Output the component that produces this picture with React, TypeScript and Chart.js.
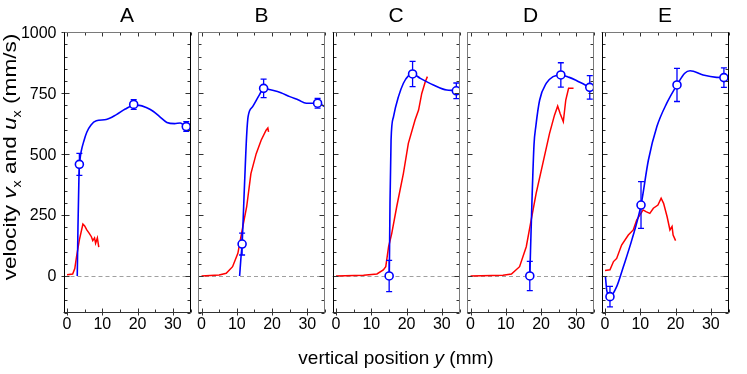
import React, { useEffect, useRef } from "react";
import { Chart, registerables } from "chart.js";

Chart.register(...registerables);

// ---------------- data ----------------
const panelTitles = ["A", "B", "C", "D", "E"];
const xTickValues = [0, 10, 20, 30];
const yTickValues = [0, 250, 500, 750, 1000];
const yTickLabels = ["0", "250", "500", "750", "1000"];

// Panel A
const aBlueX = [2.9, 3.1, 3.4, 3.7, 4.0, 4.8, 5.6, 6.8, 8.3, 11.1, 14.0, 16.5, 18.9, 20.5, 22.6, 24.5, 26.4, 28.3, 30.5, 32.1, 33.8, 35];
const aBlueY = [0, 200, 420, 480, 510, 555, 590, 620, 637, 642, 662, 685, 700, 700, 690, 675, 652, 630, 625, 628, 613, 612];
const aRedX = [0, 1.6, 2.2, 2.7, 3.5, 4.5, 5.0, 5.6, 6.3, 6.9, 7.3, 7.8, 8.1, 8.6, 9.0];
const aRedY = [5, 8, 30, 79, 148, 213, 205, 189, 175, 161, 145, 156, 134, 156, 118];
const aMarkX = [3.5, 18.9, 33.8];
const aMarkY = [458, 704, 613];
const aMarkErr = [45, 20, 20];

// Panel B
const bBlueX = [10.8, 11.2, 11.5, 12.2, 12.8, 13.2, 14.5, 16.4, 17.6, 19.8, 22.5, 25, 27.5, 29.7, 32.9, 35];
const bBlueY = [0, 80, 131, 380, 580, 654, 695, 743, 770, 763, 752, 736, 722, 709, 709, 695];
const bRedX = [0, 5.0, 7.0, 8.8, 10.3, 11.7, 12.8, 14.0, 15.5, 16.9, 18.3, 18.8, 19.0];
const bRedY = [0, 4, 11, 38, 93, 202, 284, 420, 502, 557, 598, 607, 591];
const bMarkX = [11.5, 17.6, 32.9];
const bMarkY = [131, 770, 709];
const bMarkErr = [45, 38, 20];

// Panel C
const cBlueX = [15.1, 15.3, 15.6, 16.3, 17.7, 19.1, 20.5, 21.7, 23.9, 27.6, 31.4, 34.1, 35];
const cBlueY = [0, 300, 558, 654, 736, 791, 821, 829, 811, 784, 763, 760, 755];
const cRedX = [0, 7.8, 11.6, 13.4, 14.1, 14.9, 15.8, 17.2, 19.1, 20.5, 22.4, 23.4, 24.3, 25.3, 25.9];
const cRedY = [0, 3, 8, 25, 38, 120, 175, 284, 421, 544, 640, 681, 749, 797, 818];
const cMarkX = [15.06, 21.7, 34.1];
const cMarkY = [0, 829, 760];
const cMarkErr = [64, 52, 32];

// Panel D
const dBlueX = [16.8, 17.4, 18.0, 18.5, 19.6, 21.5, 23.4, 25.6, 28, 30, 33.8, 35];
const dBlueY = [0, 300, 540, 613, 722, 791, 818, 825, 815, 802, 774, 765];
const dRedX = [0, 9.2, 11.6, 13.9, 15.8, 17.2, 18.6, 20.5, 22.4, 23.8, 24.7, 25.4, 26.3, 27.0, 27.8, 29.2];
const dRedY = [0, 3, 8, 38, 120, 230, 339, 462, 585, 660, 697, 667, 633, 722, 770, 770];
const dMarkX = [16.8, 25.6, 33.8];
const dMarkY = [0, 825, 774];
const dMarkErr = [60, 50, 48];

// Panel E
const eBlueX = [0.1, 0.5, 1.4, 3.3, 5.2, 7.6, 10.2, 12.3, 14.7, 17.5, 20.4, 22.6, 24.1, 27.8, 31.6, 33.7, 35];
const eBlueY = [0, -60, -85, -44, 38, 148, 291, 476, 613, 709, 784, 832, 842, 825, 815, 814, 812];
const eRedX = [0, 1.4, 2.4, 3.3, 4.7, 6.6, 8.0, 9.0, 10.8, 11.6, 12.7, 13.7, 15.0, 15.9, 16.6, 17.6, 18.4, 19.0, 19.3, 20.0];
const eRedY = [22, 25, 59, 72, 127, 168, 189, 230, 271, 264, 257, 278, 291, 319, 298, 243, 189, 203, 168, 145];
const eMarkX = [1.4, 10.2, 20.4, 33.7];
const eMarkY = [-85, 291, 784, 814];
const eMarkErr = [42, 96, 68, 40];

// ---------------- layout ----------------
const W = 747;
const H = 374;
const PANEL_LEFTS = [63.5, 198, 332.5, 467, 601.5];
const PANEL_W = 127;
const TOP = 32.3;
const BOTTOM = 312.5;
const X_MIN = -1;
const X_MAX = 35;
const Y_MIN = -150;
const Y_MAX = 1000;
const FONT = "'Liberation Sans', Arial, Helvetica, sans-serif";
const BLUE = "#0000ff";
const RED = "#ff0000";

const panels = [
  { bx: aBlueX, by: aBlueY, rx: aRedX, ry: aRedY, mx: aMarkX, my: aMarkY, me: aMarkErr, lc: "#000", rc: "#000" },
  { bx: bBlueX, by: bBlueY, rx: bRedX, ry: bRedY, mx: bMarkX, my: bMarkY, me: bMarkErr, lc: "#7a7a7a", rc: "#7a7a7a" },
  { bx: cBlueX, by: cBlueY, rx: cRedX, ry: cRedY, mx: cMarkX, my: cMarkY, me: cMarkErr, lc: "#000", rc: "#7a7a7a" },
  { bx: dBlueX, by: dBlueY, rx: dRedX, ry: dRedY, mx: dMarkX, my: dMarkY, me: dMarkErr, lc: "#7a7a7a", rc: "#7a7a7a" },
  { bx: eBlueX, by: eBlueY, rx: eRedX, ry: eRedY, mx: eMarkX, my: eMarkY, me: eMarkErr, lc: "#000", rc: "#000" },
];

const zip = (xs: number[], ys: number[]) => xs.map((x, i) => ({ x, y: ys[i] }));

function drawRich(ctx: CanvasRenderingContext2D, parts: { t: string; it?: boolean; sub?: boolean }[], cx: number, baseY: number, size: number) {
  const fontFor = (p: { it?: boolean; sub?: boolean }) =>
    `${p.it ? "italic " : ""}${p.sub ? Math.round(size * 0.65) : size}px ${FONT}`;
  let total = 0;
  for (const p of parts) {
    ctx.font = fontFor(p);
    total += ctx.measureText(p.t).width;
  }
  let x = cx - total / 2;
  ctx.textAlign = "left";
  ctx.textBaseline = "alphabetic";
  for (const p of parts) {
    ctx.font = fontFor(p);
    ctx.fillText(p.t, x, baseY + (p.sub ? size * 0.25 : 0));
    x += ctx.measureText(p.t).width;
  }
}

function makePlugin(idx: number) {
  const p = panels[idx];
  return {
    id: "panelDeco" + idx,
    beforeDatasetsDraw(chart: any) {
      const { ctx, chartArea: a, scales } = chart;
      const y0 = Math.round(scales.y.getPixelForValue(0)) + 0.5;
      ctx.save();
      ctx.strokeStyle = "#a0a0a0";
      ctx.lineWidth = 1;
      ctx.setLineDash([4, 3]);
      ctx.beginPath();
      ctx.moveTo(a.left, y0);
      ctx.lineTo(a.right, y0);
      ctx.stroke();
      ctx.restore();
    },
    beforeDatasetDraw(chart: any, args: any) {
      if (args.index !== 0) return;
      const { ctx, scales } = chart;
      ctx.save();
      ctx.strokeStyle = BLUE;
      ctx.lineWidth = 1.3;
      p.mx.forEach((xv: number, i: number) => {
        const x = scales.x.getPixelForValue(xv);
        const yt = scales.y.getPixelForValue(p.my[i] + p.me[i]);
        const yb = scales.y.getPixelForValue(p.my[i] - p.me[i]);
        ctx.beginPath();
        ctx.moveTo(x, yt);
        ctx.lineTo(x, yb);
        ctx.moveTo(x - 3, yt);
        ctx.lineTo(x + 3, yt);
        ctx.moveTo(x - 3, yb);
        ctx.lineTo(x + 3, yb);
        ctx.stroke();
      });
      ctx.restore();
    },
    afterDatasetsDraw(chart: any) {
      const { ctx, chartArea: a, scales } = chart;
      const L = Math.round(a.left) + 0.5;
      const R = Math.round(a.right) - 0.5;
      const T = Math.round(a.top) + 0.5;
      const B = Math.round(a.bottom) - 0.5;
      ctx.save();
      ctx.lineWidth = 1;
      // ticks (inward)
      ctx.strokeStyle = "#333";
      ctx.beginPath();
      for (let v = 0; v <= 35; v += 5) {
        const x = Math.round(scales.x.getPixelForValue(v)) + 0.5;
        const len = v % 10 === 0 ? 4 : 3;
        ctx.moveTo(x, B);
        ctx.lineTo(x, B - len);
        ctx.moveTo(x, T);
        ctx.lineTo(x, T + len);
        if (v % 10 === 0) {
          ctx.moveTo(x, B);
          ctx.lineTo(x, B + 3);
        }
      }
      for (let v = -150; v <= 1000; v += 50) {
        const y = Math.round(scales.y.getPixelForValue(v)) + 0.5;
        const major = v % 250 === 0;
        const len = major ? 5 : 3;
        ctx.moveTo(L, y);
        ctx.lineTo(L + len, y);
        ctx.moveTo(R, y);
        ctx.lineTo(R - len, y);
        if (idx === 0 && major) {
          ctx.moveTo(L, y);
          ctx.lineTo(L - 3, y);
        }
      }
      ctx.stroke();
      // frame
      const seg = (x1: number, y1: number, x2: number, y2: number, c: string) => {
        ctx.strokeStyle = c;
        ctx.beginPath();
        ctx.moveTo(x1, y1);
        ctx.lineTo(x2, y2);
        ctx.stroke();
      };
      seg(a.left, T, a.right, T, "#7a7a7a");
      seg(a.left, B, a.right, B, "#333");
      seg(L, a.top, L, a.bottom, p.lc);
      seg(R, a.top, R, a.bottom, p.rc);

      // tick labels
      ctx.fillStyle = "#000";
      ctx.font = `16px ${FONT}`;
      ctx.textAlign = "center";
      ctx.textBaseline = "middle";
      xTickValues.forEach((v) => {
        ctx.fillText(String(v), scales.x.getPixelForValue(v), 325);
      });
      if (idx === 0) {
        ctx.textAlign = "right";
        yTickValues.forEach((v, i) => {
          ctx.fillText(yTickLabels[i], a.left - 7, scales.y.getPixelForValue(v) + 1);
        });
      }
      // panel title
      ctx.font = `21px ${FONT}`;
      ctx.textAlign = "center";
      ctx.textBaseline = "middle";
      ctx.fillText(panelTitles[idx], (a.left + a.right) / 2, 16);

      if (idx === 0) {
        // y-axis label
        ctx.save();
        ctx.translate(16, 157);
        ctx.rotate(-Math.PI / 2);
        ctx.scale(1.19, 1);
        drawRich(
          ctx,
          [
            { t: "velocity " },
            { t: "v", it: true },
            { t: "x", sub: true },
            { t: " and " },
            { t: "u", it: true },
            { t: "x", sub: true },
            { t: " (mm/s)" },
          ],
          0,
          0,
          19
        );
        ctx.restore();
        // x-axis label
        drawRich(ctx, [{ t: "vertical position " }, { t: "y", it: true }, { t: " (mm)" }], 396, 364, 19);
      }
      ctx.restore();
    },
  };
}

function Panel({ idx }: { idx: number }) {
  const ref = useRef<HTMLCanvasElement | null>(null);
  useEffect(() => {
    const p = panels[idx];
    const left = PANEL_LEFTS[idx];
    const chart = new Chart(ref.current as HTMLCanvasElement, {
      type: "line",
      data: {
        datasets: [
          {
            data: zip(p.mx, p.my),
            showLine: false,
            pointStyle: "circle",
            pointRadius: 4,
            pointBackgroundColor: "#ffffff",
            pointBorderColor: BLUE,
            pointBorderWidth: 1.6,
          },
          {
            data: zip(p.bx, p.by),
            borderColor: BLUE,
            borderWidth: 1.6,
            pointRadius: 0,
            cubicInterpolationMode: "monotone",
            fill: false,
          },
          {
            data: zip(p.rx, p.ry),
            borderColor: RED,
            borderWidth: 1.5,
            pointRadius: 0,
            tension: 0,
            fill: false,
          },
        ] as any,
      },
      options: {
        animation: false,
        responsive: false,
        devicePixelRatio: 1,
        events: [],
        layout: {
          padding: { left, right: W - left - PANEL_W, top: TOP, bottom: H - BOTTOM },
        },
        scales: {
          x: { type: "linear", min: X_MIN, max: X_MAX, display: false },
          y: { type: "linear", min: Y_MIN, max: Y_MAX, display: false },
        },
        plugins: {
          legend: { display: false },
          tooltip: { enabled: false },
        },
      } as any,
      plugins: [makePlugin(idx)],
    });
    return () => chart.destroy();
  }, [idx]);
  return (
    <canvas
      ref={ref}
      width={W}
      height={H}
      style={{ position: "absolute", left: 0, top: 0, width: W, height: H }}
    />
  );
}

export default function App() {
  return (
    <div style={{ position: "absolute", left: 0, top: 0, width: W, height: H, background: "#fff" }}>
      {panels.map((_, i) => (
        <Panel key={i} idx={i} />
      ))}
    </div>
  );
}
